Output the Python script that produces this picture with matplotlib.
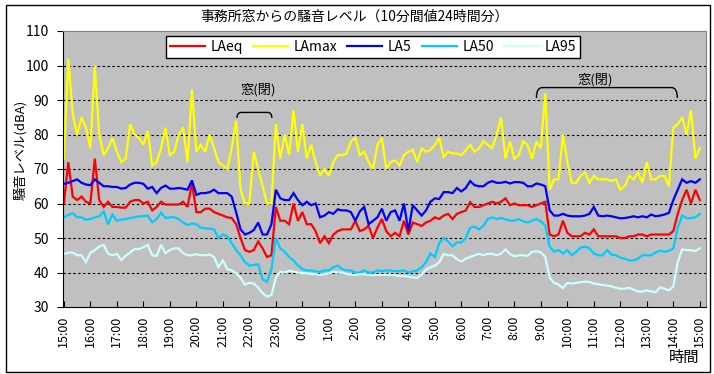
import numpy as np
import matplotlib
matplotlib.use("Agg")
import matplotlib.pyplot as plt
from matplotlib.path import Path
from matplotlib.patches import PathPatch, Rectangle

plt.rcParams['font.family'] = ['Noto Sans CJK JP', 'DejaVu Sans']

# 10分間値 15:00 -> 翌15:00 (145点), 1行 = 1時間
laeq = [
    60, 72, 62, 61, 62, 60.5,
    60, 73, 61, 59, 60.5, 59,
    59, 58.8, 58.8, 60.5, 61, 61,
    60, 60.5, 58, 59, 60.5, 59.7,
    59.7, 59.7, 59.7, 60.5, 59, 66,
    57.5, 57.5, 58.5, 58.5, 57.5, 57,
    56.5, 56, 55.8, 54, 50, 46.5,
    46, 46.5, 49, 47, 44.5, 45,
    59, 55, 55, 54, 60, 55,
    57.5, 54, 54, 52, 48.5, 50.5,
    48.5, 51, 52, 52.5, 52.5, 52.5,
    55, 52, 52.5, 53.5, 50, 53,
    55.5, 52, 50.5, 51.5, 50.5, 55,
    51, 54.5, 54, 53.5, 54.5, 55,
    56, 55.5, 56.5, 57, 55.5, 57,
    57.5, 58, 60.4, 59, 59, 59.5,
    60, 60.5, 60, 60.5, 61.5, 59.5,
    60, 59.5, 59.5, 59.5, 59, 59.5,
    60, 60.5, 51, 50.5, 51, 55,
    51.5, 50.5, 50.5, 50.5, 51.5, 51,
    52.5, 50.5, 50.5, 50.5, 50.5, 50.5,
    50, 50, 50.5, 50.5, 51, 51,
    50.5, 51, 51, 51, 51, 51,
    52, 57, 61, 64, 60, 64,
    61,
]
lamax = [
    73, 102, 86, 80, 85, 82,
    76, 100, 80, 74, 76, 79,
    75, 72, 73, 83, 80, 79,
    77, 81, 71, 72, 76, 82,
    74, 75, 80, 82, 72, 93,
    75, 77, 75, 80, 76, 72,
    71, 70, 76, 84, 64, 60,
    60, 75, 70, 65, 60, 60,
    83, 73, 80, 74, 87, 75,
    83, 73, 77, 72, 68, 70,
    68, 72, 74, 74, 74.5, 78,
    79, 74, 75, 72, 70, 77,
    79, 70, 72, 72.5, 71, 74,
    75, 75.5, 72, 76, 75, 75.5,
    77, 79, 73.5, 75, 74.5, 74.5,
    74, 75.5, 77, 75, 76, 78,
    77, 76, 80, 85, 73, 78,
    73, 74, 78, 77, 73, 78,
    76, 92, 64, 67, 67, 80,
    72, 66, 66, 68, 69, 66,
    68, 67, 67, 67, 66.5, 67,
    64, 65, 68, 67, 69, 66,
    72, 67, 67, 68, 68, 65,
    82, 83, 85, 80, 87, 73,
    76,
]
la5 = [
    65.7, 66, 66.5, 67, 66, 65.5,
    65.3, 67, 66, 65, 65, 64.8,
    64.8, 64.3, 64.5, 65.5, 66, 66,
    65.7, 64.3, 64.8, 63, 64.5, 65.2,
    64.3, 64.3, 64.5, 64.3, 64, 66.7,
    62.5, 63, 63, 63.3, 64, 63,
    63, 63, 62, 57.5, 52.5, 51,
    51.5, 52.3, 54.5, 51, 51, 54,
    64, 61.5, 61, 61, 63, 61,
    59.5, 60.5, 59.5, 60, 56, 56.5,
    57.5, 57, 58.3, 58, 58, 57.5,
    55, 57.7, 59, 54, 55, 56,
    58.5, 55, 57.5, 58, 55, 60,
    52, 59.5, 58, 56.5, 58, 60.5,
    61.5, 61.3, 63.3, 63.3, 63, 64.5,
    63.5, 64.5, 66.5, 65.3, 65, 65,
    66, 66.5, 66, 66, 66.3, 65.8,
    66.2, 66.2, 66, 65, 65, 65.8,
    65.5, 65, 58, 56.5, 56.5, 57,
    56.5, 56.3, 56.3, 56.3, 56.5, 57,
    59, 56.5, 56.3, 56.5, 56.3, 56,
    55.7, 55.8, 56, 56.3, 56, 56.3,
    56, 56.8, 56.3, 56.5, 56.8, 57.3,
    61, 64, 67, 66, 66.5, 66,
    67,
]
la50 = [
    56, 56.7, 57.2, 56, 56, 55.3,
    55.5, 56, 56.3, 57.7, 54, 56.8,
    55, 55.3, 55.5, 55.8, 56, 56.3,
    56.3, 56.5, 54.6, 55.5, 57.3, 55.8,
    56, 56, 55.5, 54.5, 53.8, 54.2,
    54, 53, 52.8, 52.7, 52.5, 50,
    51, 50.5, 48.5, 46.5, 45, 43,
    42, 42.2, 42.4, 38, 37.3, 41,
    50, 47, 46, 44.5, 43.5, 42,
    41, 40.6, 40.6, 40.3, 40.2, 40.6,
    40.6, 41.5, 42, 41, 40.6, 40.6,
    40, 40, 40.6, 40, 40, 40.6,
    40.4, 40.6, 40.6, 40.4, 40.4, 40.6,
    40, 40.3, 40.6, 41.5, 43, 45.5,
    44.5, 48.5, 50, 49, 47.6, 48.7,
    48.7, 50, 53, 53.3, 52.5, 53.5,
    55.5, 56, 55.5, 55.8, 55.4, 55,
    55, 55.5, 54.8, 54.5, 55, 55.5,
    54.8, 53.6, 47.5, 46, 46.5, 45.5,
    46.5, 45, 46, 47.2, 47.5, 47,
    45.5, 45, 45, 46.5, 45.2, 45,
    44.3, 44, 43.5, 43.5, 44, 45,
    45, 45, 45.8, 46.3, 46, 46.3,
    47, 53, 56.5, 55.8, 55.8, 56,
    57,
]
la95 = [
    45.4, 45.7, 45.8, 45, 45, 43,
    45.7, 46.5, 47.5, 48, 45.5, 45,
    45.4, 43.6, 44.9, 45.8, 46.8, 46.8,
    47.3, 48, 45, 44.8, 48, 45.6,
    46.5, 47, 47, 45.6, 45, 45,
    45.3, 45, 45, 45.2, 44.5, 41.5,
    43.5, 41, 40.6, 39.8, 38.5, 36.5,
    37, 36.8, 35.6, 34, 33, 33.5,
    38.5, 40.2, 40, 40.5, 40.3, 40,
    39.8, 39.8, 39.6, 39.5, 39.3, 39.5,
    39.8, 40.2, 40, 40, 39.6, 39.4,
    39.3, 39.5, 39.5, 39.3, 39.2, 39.3,
    39.3, 39.3, 39.3, 39.2, 39, 39,
    38.8, 38.6, 38.4, 39.5, 40.8, 41.5,
    42, 43, 45.4, 45, 45, 43.8,
    43.2, 44, 44.5, 45, 45.4, 45,
    45.4, 45.4, 45, 45.5, 46.7, 45.4,
    44.7, 45, 45, 44.8, 46, 46.2,
    45.8, 44.5, 38.5, 37, 36.5, 35.5,
    37, 36.8, 37, 37.2, 37.3, 37.3,
    36.8, 36.6, 36.4, 36.2, 36, 35.6,
    35.3, 35.3, 35.6, 35, 34.5, 34.5,
    34.8, 34.5, 34.3, 35.7, 35.3, 34.8,
    36, 43, 46.7, 46.5, 46.5, 46.2,
    47,
]
hours = [15, 16, 17, 18, 19, 20, 21, 22, 23, 0, 1, 2, 3, 4, 5, 6, 7, 8, 9, 10, 11, 12, 13, 14, 15]
tick_labels = [f"{h}:00" for h in hours]

series = [
    ("LAeq", laeq, "#FF0000"),
    ("LAmax", lamax, "#FFFF00"),
    ("LA5", la5, "#0000FF"),
    ("LA50", la50, "#00CCFF"),
    ("LA95", la95, "#CCFFFF"),
]

W, H = 714, 374
fig = plt.figure(figsize=(W / 100, H / 100), dpi=100)
ax = fig.add_axes([63 / W, 1 - 307 / H, (706 - 63) / W, (307 - 31) / H])
ax.set_facecolor("#C0C0C0")

x = np.arange(len(laeq))
for name, vals, col in series:
    ax.plot(x, vals, color=col, lw=1.6, label=name, solid_joinstyle="miter")

ax.set_xlim(-0.2, 145.4)
ax.set_ylim(30, 110)
ax.set_yticks(range(30, 111, 10))
ax.set_xticks(np.arange(0, 145, 6))
ax.set_xticklabels(tick_labels, rotation=90, fontsize=9)
ax.tick_params(axis="x", direction="in", length=4, pad=6, colors="black")
ax.tick_params(axis="y", direction="out", length=4, pad=6, labelsize=10)

ax.yaxis.grid(True, color="black", linestyle=(0, (2.2, 2.2)), lw=0.8)
gl = ax.get_ygridlines()
gl[0].set_visible(False)
gl[-1].set_visible(False)
ax.set_axisbelow(True)

for s in ("left", "bottom"):
    ax.spines[s].set_color("black")
for s in ("top", "right"):
    ax.spines[s].set_color("#808080")

leg = ax.legend(loc="upper center", bbox_to_anchor=(0.482, 0.982), ncol=5,
                fontsize=10, frameon=True, fancybox=False, edgecolor="black",
                framealpha=1, handlelength=2.5, handletextpad=0.4,
                columnspacing=0.75, borderpad=0.3, borderaxespad=0)
leg.get_frame().set_linewidth(1.0)


# 窓(閉) の括弧
def bracket(x0, x1, yt, yb, dx):
    verts = [(x0, yb), (x0, yt), (x0 + dx, yt), (x1 - dx, yt),
             (x1, yt), (x1, yb)]
    codes = [Path.MOVETO, Path.CURVE3, Path.CURVE3, Path.LINETO,
             Path.CURVE3, Path.CURVE3]
    ax.add_patch(PathPatch(Path(verts, codes), fill=False, ec="black", lw=1.0))


bracket(39.2, 47.1, 86.4, 84.8, 1.0)
ax.text(43.9, 92.9, "窓(閉)", ha="center", va="center", fontsize=9.5)
bracket(107.0, 138.9, 93.6, 90.6, 1.3)
ax.text(120.4, 95.8, "窓(閉)", ha="center", va="center", fontsize=9.5)

fig.text(355 / W, 1 - 17 / H, "事務所窓からの騒音レベル（10分間値24時間分）",
         ha="center", va="center", fontsize=10)
fig.text(20 / W, 1 - 150 / H, "騒音レベル(dBA)", rotation=90,
         ha="center", va="center", fontsize=9.5)
fig.text(684 / W, 1 - 357 / H, "時間", ha="center", va="center", fontsize=11)

fig.patches.append(Rectangle((6 / W, 2 / H), 704 / W, 367 / H,
                             transform=fig.transFigure, fill=False,
                             ec="black", lw=1.0))

fig.savefig("out.png", dpi=100)
